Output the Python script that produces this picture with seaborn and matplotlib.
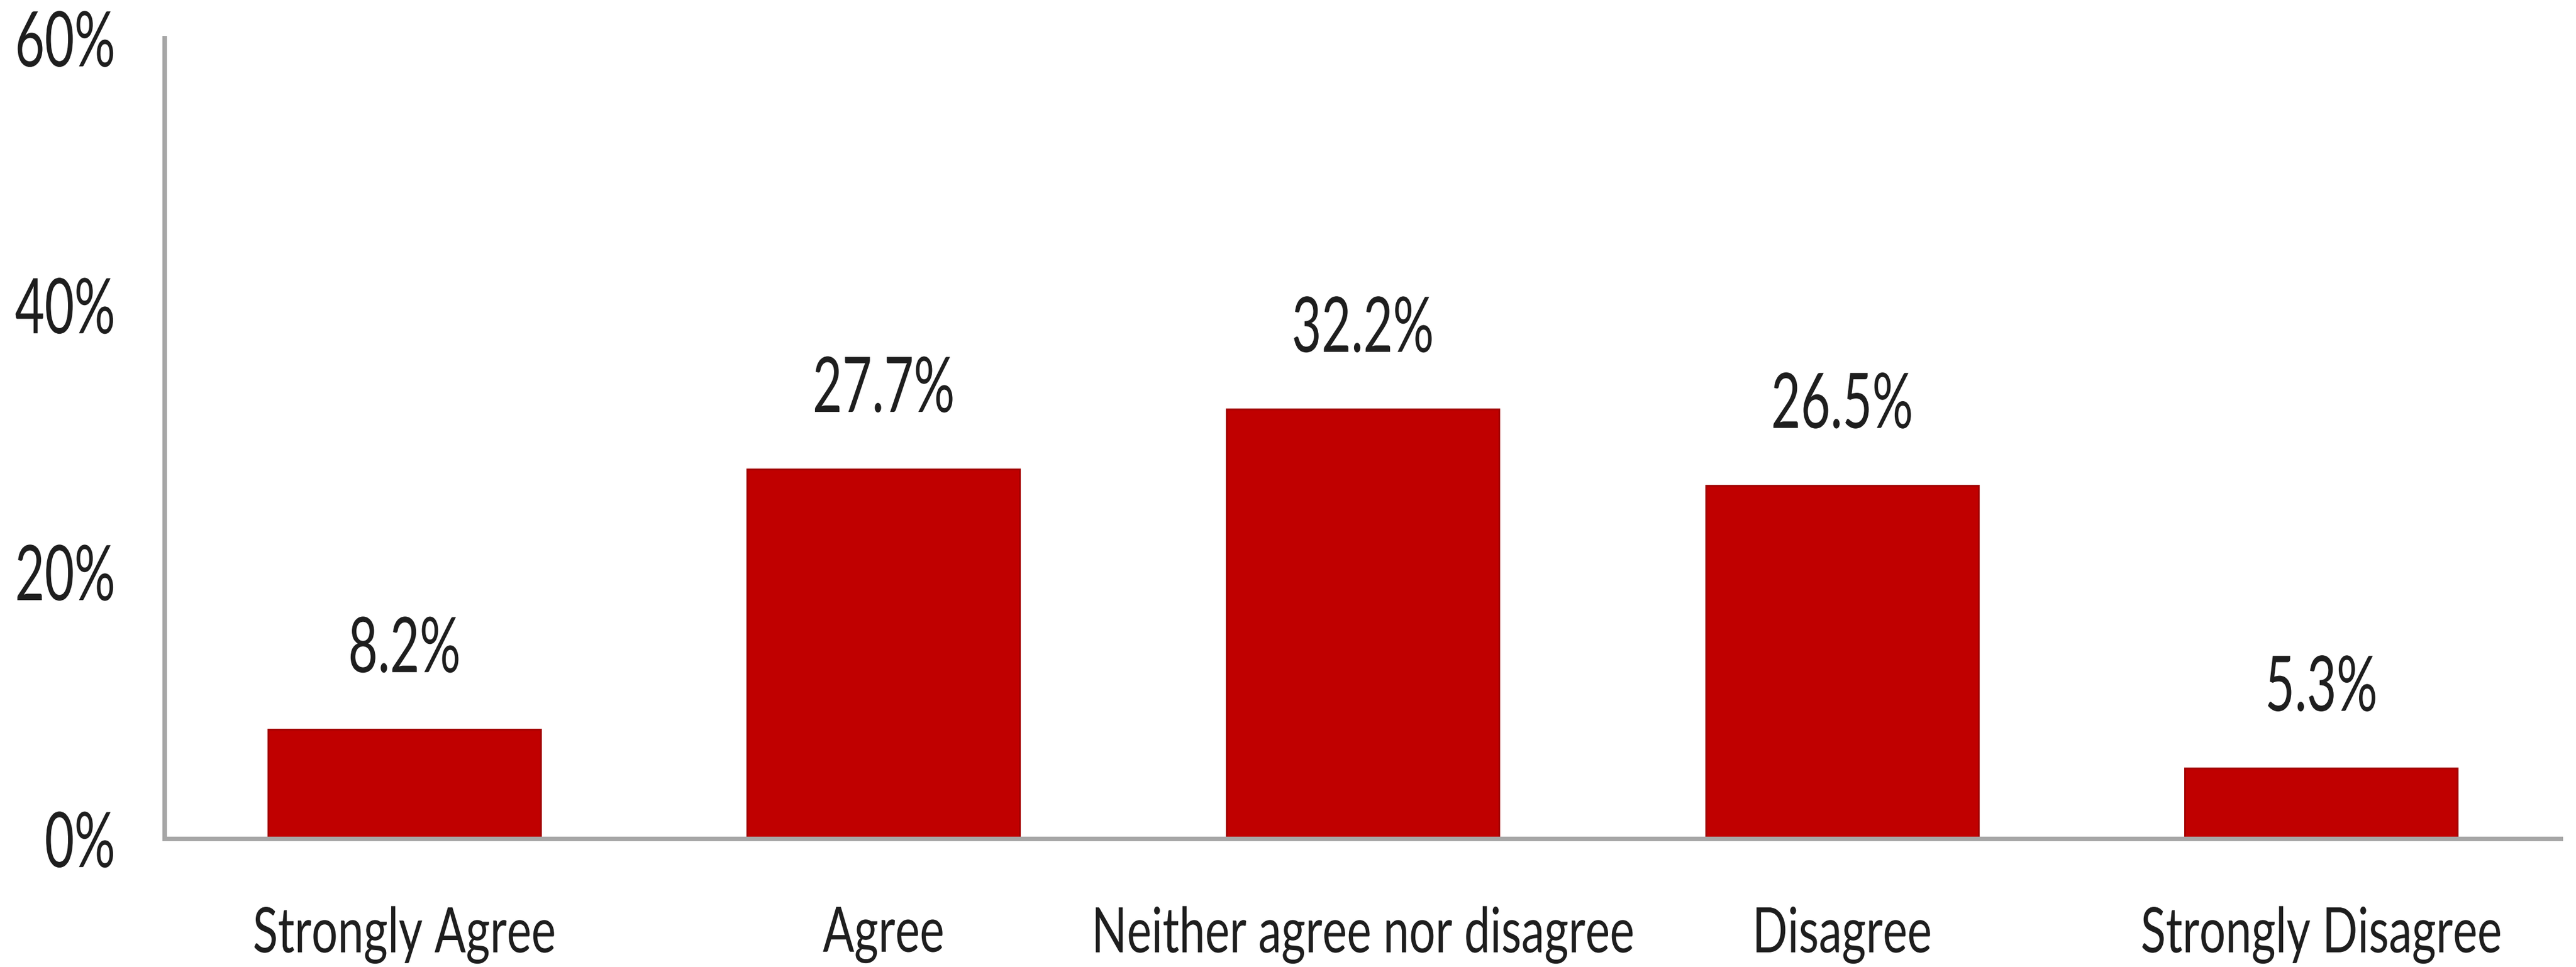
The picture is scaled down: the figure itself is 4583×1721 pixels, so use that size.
import matplotlib
matplotlib.use("Agg")
import matplotlib.pyplot as plt
import pandas as pd
import seaborn as sns
from matplotlib.patheffects import AbstractPathEffect
from matplotlib.transforms import Affine2D
from matplotlib.textpath import TextPath
from matplotlib.font_manager import FontProperties

# ---- data -------------------------------------------------------------
categories = ["Strongly Agree", "Agree", "Neither agree nor disagree",
              "Disagree", "Strongly Disagree"]
shares = [8.2, 27.7, 32.2, 26.5, 5.3]
value_labels = ["8.2%", "27.7%", "32.2%", "26.5%", "5.3%"]
y_ticks = [0, 20, 40, 60]
y_tick_labels = ["0%", "20%", "40%", "60%"]

# ---- style ------------------------------------------------------------
BAR_FILL = "#C00000"
BAR_EDGE = "#A30000"
AXIS_GRAY = "#A6A6A6"
INK = "#1E1E1E"
FAMILY = ["Lato", "DejaVu Sans"]
DPI = 100
PT = 72.0 / DPI            # points per pixel

sns.set_theme(style="white")
plt.rcParams["font.family"] = FAMILY


class VStretch(AbstractPathEffect):
    """Draw glyph outlines stretched vertically about a pivot height (in em)."""

    def __init__(self, sy, pivot_em=0.0):
        super().__init__()
        self.sy = sy
        self.pivot = pivot_em * 100.0   # text paths use 100 units per em

    def draw_path(self, renderer, gc, tpath, affine, rgbFace=None):
        stretch = (Affine2D().translate(0, -self.pivot)
                   .scale(1.0, self.sy).translate(0, self.pivot))
        renderer.draw_path(gc, tpath, stretch + affine, rgbFace)


def ink(s, size=100.0):
    return TextPath((0, 0), s, prop=FontProperties(family=FAMILY, size=size)).get_extents()


# text sizes: fit ink widths, then stretch glyph heights
val_size = 100.0 * (245 * PT) / ink("32.2%").width
digit_h = ink("0").height / 100.0                   # em
val_sy = (100 * PT) / (digit_h * val_size)

cat_size = 100.0 * (955 * PT) / ink("Neither agree nor disagree").width
cap_h = ink("N").height / 100.0                     # em
cat_sy = (80 * PT) / (cap_h * cat_size)

# ---- figure -----------------------------------------------------------
W, H = 4583, 1721
fig = plt.figure(figsize=(W / DPI, H / DPI), dpi=DPI)
fig.patch.set_facecolor("white")
ax = fig.add_axes([293 / W, 1 - 1493 / H, 4263 / W, (1493 - 68) / H])

df = pd.DataFrame({"category": categories, "share": shares})
sns.barplot(data=df, x="category", y="share", order=categories,
            color=BAR_FILL, saturation=1, width=0.569,
            edgecolor=BAR_EDGE, linewidth=2.2, ax=ax, errorbar=None)

ax.set_xlim(-0.5, len(categories) - 0.5)
ax.set_ylim(0, 60)
ax.set_xlabel("")
ax.set_ylabel("")
ax.set_facecolor("white")
ax.grid(False)

for side in ("top", "right"):
    ax.spines[side].set_visible(False)
for side in ("left", "bottom"):
    ax.spines[side].set_color(AXIS_GRAY)
    ax.spines[side].set_linewidth(8 * PT)
    ax.spines[side].set_zorder(3)

ax.set_yticks(y_ticks)
ax.set_yticklabels(y_tick_labels)
ax.tick_params(axis="y", length=0, pad=88 * PT, labelsize=val_size, labelcolor=INK)
ax.tick_params(axis="x", length=0, pad=120 * PT, labelsize=cat_size, labelcolor=INK)

for lbl in ax.get_yticklabels():
    lbl.set_path_effects([VStretch(val_sy, digit_h / 2.0)])
for lbl in ax.get_xticklabels():
    lbl.set_path_effects([VStretch(cat_sy, cap_h)])

# value labels above each bar
for bar, text in zip(ax.patches, value_labels):
    x = bar.get_x() + bar.get_width() / 2.0
    top = bar.get_height()
    ax.annotate(text, xy=(x, top), xytext=(0, 102 * PT),
                textcoords="offset points", ha="center", va="baseline",
                fontsize=val_size, color=INK,
                path_effects=[VStretch(val_sy, 0.0)])

fig.savefig("out.png", dpi=DPI, facecolor="white")
